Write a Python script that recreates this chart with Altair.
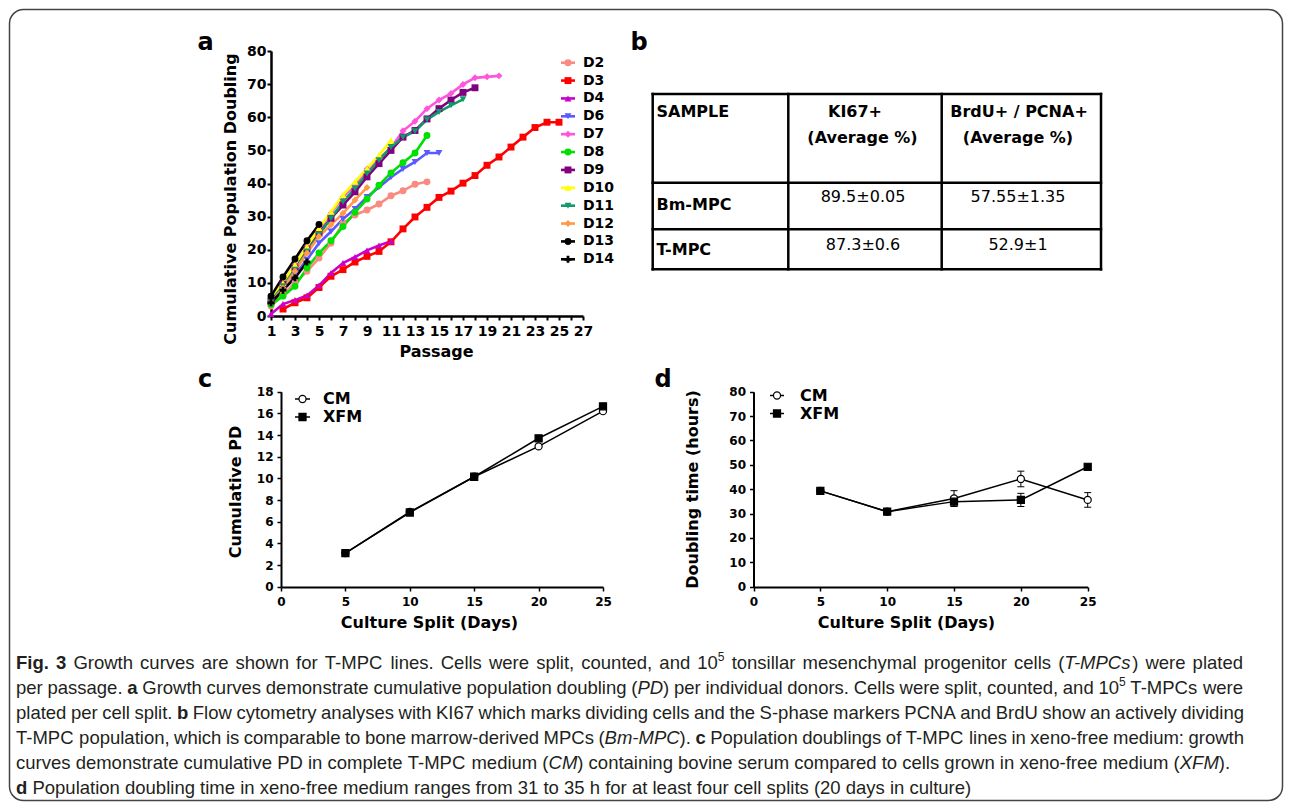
import re
import altair as alt
import pandas as pd

W, H = 1276, 794
PAGE = 8


def X(px):
    return px - PAGE


def Y(py):
    return py - PAGE


FONT = "DejaVu Sans"
CAP_FONT = "Liberation Sans"

# ---------------- panel a data ----------------
DONORS = ["D2", "D3", "D4", "D6", "D7", "D8", "D9", "D10", "D11", "D12", "D13", "D14"]
DONOR_COLORS = ["#F98B80", "#FF0000", "#CC00CC", "#5A5AFF", "#FF55DD", "#00E000",
                "#800080", "#FFFF00", "#12996A", "#FF9A4A", "#000000", "#000000"]
DONOR_SHAPES = ["circle", "square", "triangle-up", "triangle-down", "diamond", "circle",
                "square", "triangle-up", "triangle-down", "diamond", "circle", "cross"]
FIRST_PASSAGE = [1, 2, 1, 1, 1, 1, 1, 1, 1, 1, 1, 1]
PD_D2 = [3.0, 6.5, 10.0, 13.5, 17.5, 22.0, 28.0, 30.5, 32.0, 33.8, 36.3, 37.8, 39.8, 40.5]
PD_D3 = [2.1, 4.0, 5.5, 8.6, 12.0, 14.0, 16.3, 18.0, 19.5, 22.4, 26.3, 29.9, 32.8, 35.8,
         37.7, 40.1, 42.4, 45.5, 48.0, 51.0, 54.0, 56.9, 58.5, 58.5]
PD_D4 = [0.6, 3.6, 4.8, 6.2, 9.2, 13.0, 16.0, 17.8, 19.8, 21.3, 22.6]
PD_D6 = [4.5, 8.5, 12.5, 17.0, 22.0, 25.5, 29.3, 32.3, 35.9, 38.9, 41.9, 44.4, 46.5, 49.2, 49.2]
PD_D7 = [5.0, 10.0, 15.5, 21.0, 26.0, 31.0, 35.9, 39.5, 44.4, 47.5, 50.8, 55.9, 58.8, 62.6,
         65.2, 67.2, 69.9, 71.9, 72.2, 72.5]
PD_D8 = [3.5, 6.0, 9.0, 14.5, 19.0, 22.7, 27.0, 31.3, 35.3, 39.5, 43.2, 46.3, 49.2, 54.5]
PD_D9 = [4.5, 9.5, 14.5, 20.0, 25.0, 29.5, 33.5, 37.5, 42.0, 46.0, 50.0, 54.0, 56.0, 59.5,
         62.6, 65.2, 67.5, 68.9]
PD_D10 = [5.0, 10.0, 15.5, 21.0, 26.5, 31.5, 36.5, 40.5, 44.5, 48.5, 53.0]
PD_D11 = [4.5, 9.0, 14.0, 19.5, 24.5, 29.5, 34.5, 38.5, 43.0, 47.0, 51.0, 54.0, 55.8, 59.3,
          61.6, 63.6, 65.4]
PD_D12 = [4.0, 8.5, 13.5, 19.0, 24.0, 27.5, 31.0, 35.0, 38.8]
PD_D13 = [6.0, 11.8, 17.2, 22.7, 27.6]
PD_D14 = [4.0, 7.8, 11.5, 16.3]
PD_SERIES = [PD_D2, PD_D3, PD_D4, PD_D6, PD_D7, PD_D8, PD_D9, PD_D10, PD_D11, PD_D12, PD_D13, PD_D14]
A_XTICKS = list(range(1, 28))
A_YTICKS = list(range(0, 81, 10))

# ---------------- panel b data ----------------
TABLE_HEADER = ["SAMPLE", "KI67+", "BrdU+ / PCNA+"]
TABLE_SUBHEADER = ["(Average %)", "(Average %)"]
SAMPLES = ["Bm-MPC", "T-MPC"]
KI67 = ["89.5±0.05", "87.3±0.6"]
BRDU_PCNA = ["57.55±1.35", "52.9±1"]

# ---------------- panels c / d data ----------------
DAYS = [5, 10, 15, 20, 25]
MEDIA = ["CM", "XFM"]
CM_PD = [3.1, 6.9, 10.15, 12.95, 16.2]
XFM_PD = [3.1, 6.85, 10.15, 13.7, 16.65]
CM_DT = [39.3, 30.8, 36.2, 44.2, 35.6]
CM_DT_ERR = [1.0, 0.8, 3.2, 3.2, 3.0]
XFM_DT = [39.3, 30.8, 34.9, 35.6, 49.2]
XFM_DT_ERR = [1.0, 0.8, 2.0, 2.7, 1.0]
CD_XTICKS = [0, 5, 10, 15, 20, 25]
C_YTICKS = list(range(0, 19, 2))
D_YTICKS = list(range(0, 81, 10))

# caption: *bold*, _italic_, ^superscript
CAPTION_LINES = [
    "*Fig. 3* Growth curves are shown for T-MPC lines. Cells were split, counted, and 10^5 tonsillar mesenchymal progenitor cells (_T-MPCs_) were plated",
    "per passage. *a* Growth curves demonstrate cumulative population doubling (_PD_) per individual donors. Cells were split, counted, and 10^5 T-MPCs were",
    "plated per cell split. *b* Flow cytometry analyses with KI67 which marks dividing cells and the S-phase markers PCNA and BrdU show an actively dividing",
    "T-MPC population, which is comparable to bone marrow-derived MPCs (_Bm-MPC_). *c* Population doublings of T-MPC lines in xeno-free medium: growth",
    "curves demonstrate cumulative PD in complete T-MPC medium (_CM_) containing bovine serum compared to cells grown in xeno-free medium (_XFM_).",
    "*d* Population doubling time in xeno-free medium ranges from 31 to 35 h for at least four cell splits (20 days in culture)",
]
CAPTION_RIGHT = [1243, 1243, 1244, 1244, None, None]

AX = dict(domainColor="black", tickColor="black", labelColor="black", titleColor="black",
          labelFont=FONT, labelFontWeight="bold", titleFont=FONT, titleFontWeight="bold",
          grid=False, labelOverlap=False, labelFlush=False, titleBaseline="middle")

# ---------------- panel a ----------------
rows = []
for d, start, vals in zip(DONORS, FIRST_PASSAGE, PD_SERIES):
    for i, v in enumerate(vals):
        rows.append({"donor": d, "passage": start + i, "pd": v})
a_df = pd.DataFrame(rows)

xa = alt.X("passage:Q",
           scale=alt.Scale(domain=[1, 27], range=[X(271), X(583)], nice=False, zero=False),
           axis=alt.Axis(orient="bottom", offset=Y(316) - H, values=A_XTICKS,
                         labelExpr="datum.value % 2 == 1 ? datum.label : ''",
                         labelFontSize=14, labelPadding=4, tickSize=4, tickWidth=2, domainWidth=2.5,
                         title="Passage", titleFontSize=16, titleX=X(436), titleY=35, **AX))
ya = alt.Y("pd:Q",
           scale=alt.Scale(domain=[0, 80], range=[Y(316), Y(51)], nice=False, zero=False),
           axis=alt.Axis(orient="left", offset=-X(271), values=A_YTICKS,
                         labelFontSize=14, labelPadding=1, tickSize=4, tickWidth=2, domainWidth=2.5,
                         title="Cumulative Population Doubling", titleFontSize=16,
                         titleX=230 - 271, titleY=Y(198.5), **AX))
color_a = alt.Color("donor:N", scale=alt.Scale(domain=DONORS, range=DONOR_COLORS), legend=None)
shape_a = alt.Shape("donor:N", scale=alt.Scale(domain=DONORS, range=DONOR_SHAPES), legend=None)

a_lines = alt.Chart(a_df).mark_line(strokeWidth=2.6).encode(x=xa, y=ya, color=color_a, order="passage:Q")
a_pts = alt.Chart(a_df).mark_point(filled=True, size=48, opacity=1).encode(x=xa, y=ya, color=color_a, shape=shape_a)
panel_a = alt.layer(a_lines, a_pts)

leg_df = pd.DataFrame({"donor": DONORS})
ly = alt.Y("donor:N", scale=alt.Scale(type="point", domain=DONORS, range=[Y(62.7), Y(259.3)], padding=0), axis=None)
legend_a = alt.layer(
    alt.Chart(leg_df).mark_rule(strokeWidth=2.6).encode(x=alt.value(X(561)), x2=alt.value(X(575)), y=ly, color=color_a),
    alt.Chart(leg_df).mark_point(filled=True, size=48, opacity=1).encode(x=alt.value(X(568)), y=ly, color=color_a, shape=shape_a),
    alt.Chart(leg_df).mark_text(align="left", baseline="middle", font=FONT, fontWeight="bold", fontSize=14, color="black")
    .encode(x=alt.value(X(583)), y=ly, text="donor:N"),
)

# ---------------- panel b (table) ----------------
TX = [652.7, 788.3, 941.7, 1101]
TY = [94, 182.7, 229.3, 269.3]
rule_rows = []
for xv in TX:
    rule_rows.append({"x": X(xv), "x2": X(xv), "y": Y(TY[0]), "y2": Y(TY[-1])})
for yv in TY:
    rule_rows.append({"x": X(TX[0]), "x2": X(TX[-1]), "y": Y(yv), "y2": Y(yv)})
t_rules = alt.Chart(pd.DataFrame(rule_rows)).mark_rule(strokeWidth=2.5, color="black", strokeCap="square").encode(
    x=alt.X("x:Q", scale=None, axis=None), x2="x2:Q",
    y=alt.Y("y:Q", scale=None, axis=None), y2="y2:Q")

col_c = [863, 1018]
bold_left = pd.DataFrame({"t": [TABLE_HEADER[0]] + SAMPLES,
                          "x": [X(656.5)] * 3, "y": [Y(111.7), Y(205), Y(250)]})
bold_center = pd.DataFrame({"t": TABLE_HEADER[1:] + TABLE_SUBHEADER,
                            "x": [X(855), X(1019), X(862.5), X(1018)],
                            "y": [Y(111.7), Y(111.7), Y(138), Y(138)]})
vals_center = pd.DataFrame({"t": KI67 + BRDU_PCNA,
                            "x": [X(col_c[0])] * 2 + [X(col_c[1])] * 2,
                            "y": [Y(196.5), Y(245), Y(196.5), Y(245)]})


def text_layer(df, align, weight, size, font=FONT, color="black", style="normal", dy=0):
    return alt.Chart(df).mark_text(align=align, baseline="middle", font=font, fontWeight=weight,
                                   fontSize=size, color=color, fontStyle=style, dy=dy).encode(
        x=alt.X("x:Q", scale=None, axis=None), y=alt.Y("y:Q", scale=None, axis=None), text="t:N")


table = alt.layer(t_rules,
                  text_layer(bold_left, "left", "bold", 16),
                  text_layer(bold_center, "center", "bold", 16),
                  text_layer(vals_center, "center", "normal", 16))

# ---------------- panels c / d ----------------
cd_df = pd.DataFrame({"day": DAYS * 2, "medium": ["CM"] * 5 + ["XFM"] * 5,
                      "cpd": CM_PD + XFM_PD, "dt": CM_DT + XFM_DT, "err": CM_DT_ERR + XFM_DT_ERR})
cd_df["lo"] = cd_df["dt"] - cd_df["err"]
cd_df["hi"] = cd_df["dt"] + cd_df["err"]

shape_m = alt.Shape("medium:N", scale=alt.Scale(domain=MEDIA, range=["circle", "square"]), legend=None)
fill_m = alt.Fill("medium:N", scale=alt.Scale(domain=MEDIA, range=["white", "black"]), legend=None)


def cd_x(x0, x1, axis_y, title_cx):
    return alt.X("day:Q", scale=alt.Scale(domain=[0, 25], range=[X(x0), X(x1)], nice=False, zero=False),
                 axis=alt.Axis(orient="bottom", offset=Y(axis_y) - H, values=CD_XTICKS,
                               labelFontSize=12, labelPadding=5, tickSize=4, tickWidth=1.5, domainWidth=2,
                               title="Culture Split (Days)", titleFontSize=16, titleX=X(title_cx), titleY=35, **AX))


def cd_y(field, dom, y0, y1, x_axis, ticks, title, tcx, tcy):
    return alt.Y(field, scale=alt.Scale(domain=dom, range=[Y(y0), Y(y1)], nice=False, zero=False),
                 axis=alt.Axis(orient="left", offset=-X(x_axis), values=ticks,
                               labelFontSize=12, labelPadding=4, tickSize=4, tickWidth=1.5, domainWidth=2,
                               title=title, titleFontSize=16, titleX=tcx - x_axis, titleY=Y(tcy), **AX))


xc = cd_x(281, 603, 587, 429)
yc = cd_y("cpd:Q", [0, 18], 586.7, 391.7, 281, C_YTICKS, "Cumulative PD", 235, 491.5)
panel_c = alt.layer(
    alt.Chart(cd_df).mark_line(color="black", strokeWidth=1.5).encode(x=xc, y=yc, detail="medium:N"),
    alt.Chart(cd_df).mark_point(filled=True, size=50, opacity=1, stroke="black", strokeWidth=1.2)
    .encode(x=xc, y=yc, shape=shape_m, fill=fill_m),
)

xd = cd_x(753.5, 1087.7, 587, 906)


def yd(field):
    return cd_y(field, [0, 80], 586.7, 391.7, 753.5, D_YTICKS, "Doubling time (hours)", 692, 489)


panel_d = alt.layer(
    alt.Chart(cd_df).mark_rule(color="black", strokeWidth=1).encode(x=xd, y=yd("lo:Q"), y2="hi:Q"),
    alt.Chart(cd_df).mark_tick(orient="horizontal", size=7, thickness=1, color="black", opacity=1).encode(x=xd, y=yd("hi:Q")),
    alt.Chart(cd_df).mark_tick(orient="horizontal", size=7, thickness=1, color="black", opacity=1).encode(x=xd, y=yd("lo:Q")),
    alt.Chart(cd_df).mark_line(color="black", strokeWidth=1.5).encode(x=xd, y=yd("dt:Q"), detail="medium:N"),
    alt.Chart(cd_df).mark_point(filled=True, size=50, opacity=1, stroke="black", strokeWidth=1.2)
    .encode(x=xd, y=yd("dt:Q"), shape=shape_m, fill=fill_m),
)

m_df = pd.DataFrame({"medium": MEDIA})


def media_legend(y0, y1, sx, lx0, lx1, tx):
    my = alt.Y("medium:N", scale=alt.Scale(type="point", domain=MEDIA, range=[Y(y0), Y(y1)], padding=0), axis=None)
    return alt.layer(
        alt.Chart(m_df).mark_rule(color="black", strokeWidth=1.5).encode(x=alt.value(X(lx0)), x2=alt.value(X(lx1)), y=my),
        alt.Chart(m_df).mark_point(filled=True, size=50, opacity=1, stroke="black", strokeWidth=1.2)
        .encode(x=alt.value(X(sx)), y=my, shape=shape_m, fill=fill_m),
        alt.Chart(m_df).mark_text(align="left", baseline="middle", font=FONT, fontWeight="bold", fontSize=16, color="black")
        .encode(x=alt.value(X(tx)), y=my, text="medium:N"),
    )


legend_c = media_legend(399, 417, 302.5, 295, 310, 323)
legend_d = media_legend(395.5, 413.5, 777, 770, 784, 800)

# ---------------- panel letters ----------------
letters = pd.DataFrame({"t": ["a", "b", "c", "d"],
                        "x": [X(205.5), X(639), X(205), X(663)],
                        "y": [Y(43), Y(43), Y(380), Y(380)]})
letter_layer = text_layer(letters, "center", "bold", 24)

# ---------------- caption (justified word layout, Arial metrics) ----------------
AR = {" ": 278, "!": 278, "(": 333, ")": 333, ",": 278, "-": 333, ".": 278, "/": 278, ":": 278, ";": 278,
      "%": 889, "+": 584}
for ch in "0123456789":
    AR[ch] = 556
AR.update(dict(zip("ABCDEFGHIJKLMNOPQRSTUVWXYZ",
                   [667, 667, 722, 722, 667, 611, 778, 722, 278, 500, 667, 556, 833, 722, 778, 667, 778,
                    722, 667, 611, 722, 667, 944, 667, 667, 611])))
AR.update(dict(zip("abcdefghijklmnopqrstuvwxyz",
                   [556, 556, 500, 556, 556, 278, 556, 556, 222, 222, 500, 222, 833, 556, 556, 556, 556,
                    333, 500, 278, 556, 500, 722, 500, 500, 500])))
AB = dict(AR)
AB.update({"a": 556, "b": 611, "c": 556, "d": 611, "g": 611, "i": 278, "F": 611})

CAP_FS = 18.5
SUP_FS = 12.0


def text_width(t, style):
    tab = AB if style == "b" else AR
    size = SUP_FS if style == "s" else CAP_FS
    return sum(tab.get(ch, 556) for ch in t) / 1000.0 * size


def parse_runs(line):
    runs, pos = [], 0
    for m in re.finditer(r"\*(.+?)\*|_(.+?)_|\^(\w+)", line):
        if m.start() > pos:
            runs.append((line[pos:m.start()], "n"))
        if m.group(1):
            runs.append((m.group(1), "b"))
        elif m.group(2):
            runs.append((m.group(2), "i"))
        else:
            runs.append((m.group(3), "s"))
        pos = m.end()
    if pos < len(line):
        runs.append((line[pos:], "n"))
    return runs


def split_words(runs):
    words, cur = [], []
    for text, style in runs:
        parts = text.split(" ")
        for k, p in enumerate(parts):
            if k > 0:
                if cur:
                    words.append(cur)
                cur = []
            if p:
                cur.append((p, style))
    if cur:
        words.append(cur)
    return words


CAP_Y = [663, 688, 713, 738, 763, 788]
CAP_LEFT = 16
cap_rows = []
space_w = AR[" "] / 1000.0 * CAP_FS
for line, yv, right in zip(CAPTION_LINES, CAP_Y, CAPTION_RIGHT):
    words = split_words(parse_runs(line))
    widths = [sum(text_width(t, s) for t, s in w) for w in words]
    gap = (right - CAP_LEFT - sum(widths)) / (len(words) - 1) if right else space_w
    xcur = CAP_LEFT
    for w, wd in zip(words, widths):
        xp = xcur
        for t, s in w:
            cap_rows.append({"t": t, "style": s, "x": X(xp), "y": Y(yv)})
            xp += text_width(t, s)
        xcur += wd + gap
cap_df = pd.DataFrame(cap_rows)
CAP_COLOR = "#231F20"
caption = alt.layer(
    text_layer(cap_df[cap_df["style"] == "n"], "left", "normal", CAP_FS, font=CAP_FONT, color=CAP_COLOR),
    text_layer(cap_df[cap_df["style"] == "b"], "left", "bold", CAP_FS, font=CAP_FONT, color=CAP_COLOR),
    text_layer(cap_df[cap_df["style"] == "i"], "left", "normal", CAP_FS, font=CAP_FONT, color=CAP_COLOR, style="italic"),
    text_layer(cap_df[cap_df["style"] == "s"], "left", "normal", SUP_FS, font=CAP_FONT, color=CAP_COLOR, dy=-6),
)

# ---------------- border ----------------
border = alt.Chart(pd.DataFrame({"k": [0]})).mark_rect(
    cornerRadius=14, fill="white", fillOpacity=0, stroke="#444444", strokeWidth=1.5).encode(
    x=alt.value(1.5), x2=alt.value(W - 1.5), y=alt.value(1.5), y2=alt.value(H - 1.5))

chart = alt.layer(
    border, panel_a, legend_a, table, panel_c, legend_c, panel_d, legend_d, letter_layer, caption
).resolve_scale(
    x="independent", y="independent", color="independent", shape="independent", fill="independent"
).properties(
    width=W, height=H, padding=0, autosize=alt.AutoSizeParams(type="none"), background="white"
).configure_view(stroke=None)

chart.save("out.html", embed_options={"renderer": "svg", "actions": False})
